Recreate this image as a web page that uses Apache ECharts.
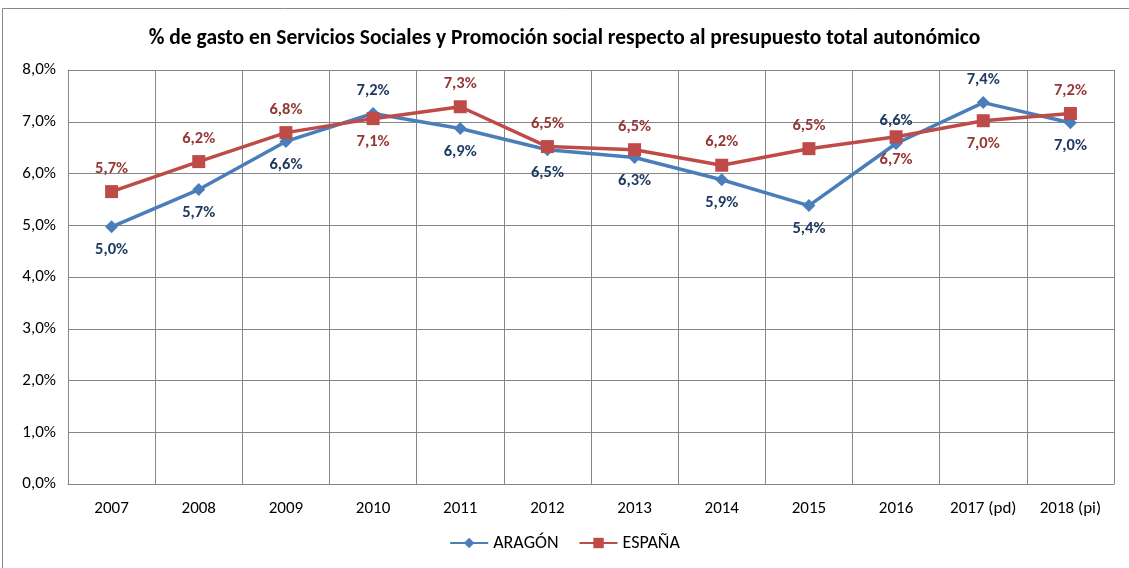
<!DOCTYPE html>
<html><head><meta charset="utf-8">
<script src="https://cdn.jsdelivr.net/npm/echarts@6/dist/echarts.min.js"></script>
<style>html,body{margin:0;padding:0;background:#fff}#c{width:1129px;height:568px}</style>
</head><body><div id="c"></div>
<script>
const categories = ['2007','2008','2009','2010','2011','2012','2013','2014','2015','2016','2017 (pd)','2018 (pi)'];
const aragon = [4.97, 5.69, 6.62, 7.16, 6.87, 6.46, 6.31, 5.88, 5.38, 6.58, 7.37, 6.98];
const espana = [5.65, 6.23, 6.79, 7.06, 7.29, 6.52, 6.46, 6.16, 6.48, 6.71, 7.02, 7.16];
const aragonLabelAbove = [false,false,false,true,false,false,false,false,false,true,true,false];
const yTicks = [0,1,2,3,4,5,6,7,8];

const FONT = 'Carlito, Lato, "Open Sans", sans-serif';
const fmt = v => v.toFixed(1).replace('.', ',') + '%';

const chart = echarts.init(document.getElementById('c'));
chart.setOption({
  animation: false,
  title: {text: '% de gasto en Servicios Sociales y Promoción social respecto al presupuesto total autonómico',
    left: 'center', top: 23, textStyle: {fontFamily: FONT, fontSize: 21.5, fontWeight: 'bold', color: '#000'}},
  grid: {left: 68, right: 15, top: 70, bottom: 84},
  legend: {bottom: 11, left: 'center', itemWidth: 38, itemHeight: 13, itemGap: 20,
    textStyle: {fontFamily: FONT, fontSize: 18, color: '#000'},
    data: ['ARAGÓN','ESPAÑA']},
  xAxis: {type: 'category', data: categories, boundaryGap: true,
    axisLine: {lineStyle: {color: '#868686'}}, axisTick: {show: false},
    splitLine: {show: true, lineStyle: {color: '#868686', width: 1}},
    axisLabel: {fontFamily: FONT, fontSize: 17, color: '#000', margin: 16, interval: 0}},
  yAxis: {type: 'value', min: 0, max: 8, interval: 1,
    axisLine: {show: true, lineStyle: {color: '#868686'}}, axisTick: {show: false},
    splitLine: {lineStyle: {color: '#868686', width: 1}},
    axisLabel: {fontFamily: FONT, fontSize: 17, color: '#000', margin: 12,
      formatter: v => v.toFixed(1).replace('.', ',') + '%'}},
  series: [
    {name: 'ARAGÓN', type: 'line', data: aragon.map((v,i)=>({value: v, label: {position: aragonLabelAbove[i] ? 'top' : 'bottom'}})),
     symbol: 'diamond', symbolSize: 13, z: 3,
     lineStyle: {color: '#4A7EBB', width: 3.5}, itemStyle: {color: '#4A7EBB'},
     label: {show: true, distance: 8, fontFamily: FONT, fontSize: 16.5, fontWeight: 'bold', color: '#1F3A60',
       formatter: p => fmt(p.value)}},
    {name: 'ESPAÑA', type: 'line', data: espana.map((v,i)=>({value: v, label: {position: aragonLabelAbove[i] ? 'bottom' : 'top'}})),
     symbol: 'rect', symbolSize: 13, z: 4,
     lineStyle: {color: '#BE4B48', width: 3.5}, itemStyle: {color: '#BE4B48'},
     label: {show: true, distance: 8, fontFamily: FONT, fontSize: 16.5, fontWeight: 'bold', color: '#953735',
       formatter: p => fmt(p.value)}}
  ],
  graphic: [{type: 'rect', shape: {x: 2.5, y: 8.5, width: 1140, height: 600}, style: {fill: null, stroke: '#888', lineWidth: 1}, silent: true},
            {type: 'line', shape: {x1: 1114.5, y1: 70, x2: 1114.5, y2: 484}, style: {stroke: '#868686', lineWidth: 1}}]
});
</script></body></html>
